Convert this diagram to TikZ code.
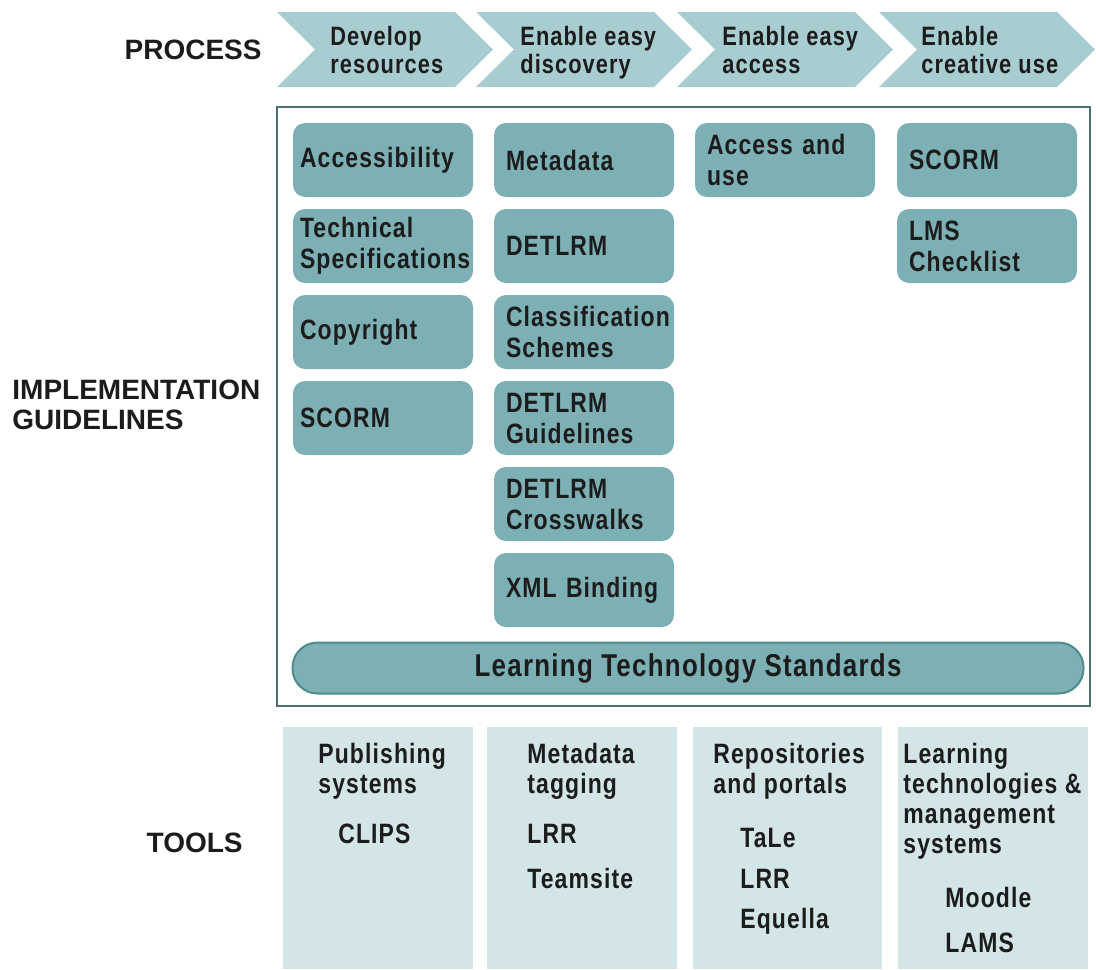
\documentclass[tikz,border=0pt]{standalone}
\usepackage{fontspec}
\setmainfont{Liberation Sans}
\newfontfamily\narrowfont[FakeStretch=0.82,LetterSpace=4]{Liberation Sans}

\definecolor{chevfill}{HTML}{A8CDD0}
\definecolor{guidefill}{HTML}{7DB0B4}
\definecolor{toolfill}{HTML}{D4E5E7}
\definecolor{ltsedge}{HTML}{4C8C8F}
\definecolor{framecol}{HTML}{4F6E70}
\definecolor{inkcol}{HTML}{1C1C1C}

\tikzset{
    rowlabel/.style={text=inkcol, inner sep=0pt, align=left,
        font=\bfseries\fontsize{14}{15}\selectfont},
    steptext/.style={text=inkcol, inner sep=0pt, align=left, anchor=north west,
        font=\narrowfont\bfseries\fontsize{13.3}{14}\selectfont},
    guide/.style={rectangle, rounded corners=6pt, fill=guidefill,
        minimum width=90pt, minimum height=37pt, inner xsep=6pt, text width=78pt,
        align=left, text=inkcol, font=\narrowfont\bfseries\fontsize{14}{15.5}\selectfont},
    guidewide/.style={guide, inner xsep=3.5pt, text width=83pt},
    toolhead/.style={text=inkcol, inner sep=0pt, align=left, anchor=north west,
        font=\narrowfont\bfseries\fontsize{14}{15}\selectfont},
    toolitem/.style={text=inkcol, inner sep=0pt, anchor=base west,
        font=\narrowfont\bfseries\fontsize{14}{15}\selectfont}
}

\begin{document}
\begin{tikzpicture}[x=0.5pt, y=-0.5pt]
    \useasboundingbox (0,0) rectangle (1096,969);

    % Row labels
    \node[rowlabel, anchor=east] (process) at (262,50) {PROCESS};
    \node[rowlabel, anchor=west] (impl) at (12,405) {IMPLEMENTATION\\GUIDELINES};
    \node[rowlabel, anchor=east] (tools) at (243,843) {TOOLS};

    % Draw the process chevrons
    \foreach \x in {277,476,677,879} {
        \fill[chevfill] (\x,12) -- (\x+178,12) -- (\x+216,49.5) -- (\x+178,87)
            -- (\x,87) -- (\x+38,49.5) -- cycle;
    }
    \node[steptext] (step1) at (330,26) {Develop\\resources};
    \node[steptext] (step2) at (520,26) {Enable easy\\discovery};
    \node[steptext] (step3) at (722,26) {Enable easy\\access};
    \node[steptext] (step4) at (921,26) {Enable\\creative use};

    % Draw the guidelines frame
    \draw[framecol, line width=1pt] (277,107) rectangle (1090,706);

    % Guidelines per column
    \foreach \txt [count=\i] in {Accessibility, {Technical\\Specifications}, Copyright, SCORM} {
        \node[guidewide] (dev\i) at (383,74+86*\i) {\txt};
    }
    \foreach \txt [count=\i] in {Metadata, DETLRM, {Classification\\Schemes},
            {DETLRM\\Guidelines}, {DETLRM\\Crosswalks}, XML Binding} {
        \node[guide] (disc\i) at (584,74+86*\i) {\txt};
    }
    \node[guide] (acc1) at (785,160) {Access and\\use};
    \foreach \txt [count=\i] in {SCORM, {LMS\\Checklist}} {
        \node[guide] (use\i) at (987,74+86*\i) {\txt};
    }

    % Standards bar
    \node[rectangle, rounded corners=12.5pt, fill=guidefill, draw=ltsedge, line width=1pt,
        minimum width=395.5pt, minimum height=25.5pt, text=inkcol,
        font=\narrowfont\bfseries\fontsize{15.8}{17}\selectfont] (lts) at (688,668) {Learning Technology Standards};

    % Tools boxes
    \foreach \x/\w in {283/190, 487/190, 693/189, 898/190} {
        \fill[toolfill] (\x,727) rectangle (\x+\w,969);
    }
    \node[toolhead] (pub) at (318,743) {Publishing\\systems};
    \node[toolitem] (clips) at (338,843) {CLIPS};

    \node[toolhead] (meta) at (527,743) {Metadata\\tagging};
    \node[toolitem] (lrr1) at (527,843) {LRR};
    \node[toolitem] (team) at (527,888) {Teamsite};

    \node[toolhead] (repo) at (713,743) {Repositories\\and portals};
    \node[toolitem] (tale) at (740,847) {TaLe};
    \node[toolitem] (lrr2) at (740,888) {LRR};
    \node[toolitem] (equ) at (740,928) {Equella};

    \node[toolhead] (lms) at (903,743) {Learning\\technologies \&\\management\\systems};
    \node[toolitem] (moodle) at (945,907) {Moodle};
    \node[toolitem] (lams) at (945,952) {LAMS};
\end{tikzpicture}
\end{document}
